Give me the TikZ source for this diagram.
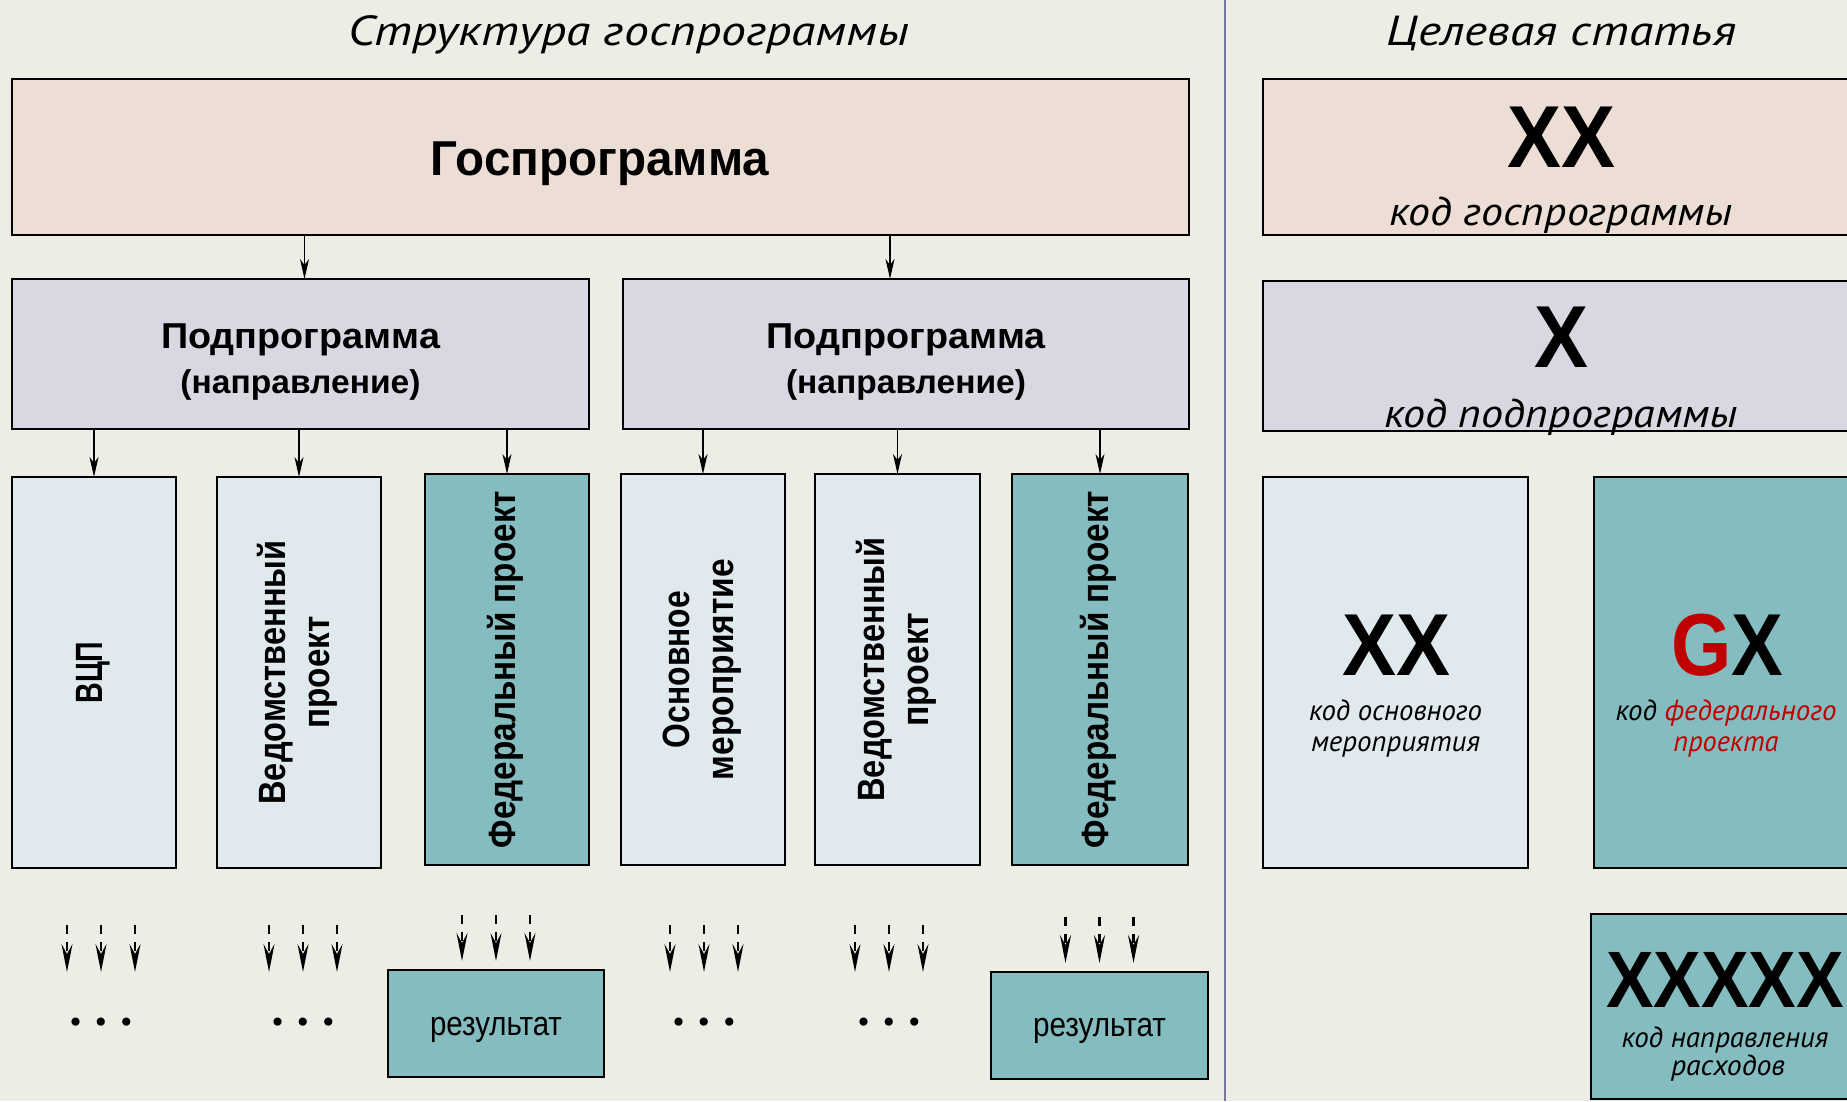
\documentclass[tikz,border=0pt]{standalone}
\usepackage{fontspec}
\usepackage{graphicx}
\setmainfont{Liberation Sans}
\newfontfamily\ptsans{PT Sans}
\newfontfamily\djv{DejaVu Sans}
\usetikzlibrary{arrows.meta,calc}
\definecolor{bgc}{RGB}{238,237,229}
\definecolor{gospc}{RGB}{236,222,213}
\definecolor{subc}{RGB}{216,216,226}
\definecolor{lightc}{RGB}{223,233,238}
\definecolor{tealc}{RGB}{132,188,192}
\definecolor{divc}{RGB}{120,120,165}
\definecolor{redc}{RGB}{192,0,0}
\newcommand\fitw[2]{\resizebox{#1pt}{\height}{#2}}
\newcommand\vtext[1]{\rotatebox{90}{\fontsize{38}{44}\selectfont\bfseries\begin{tabular}{@{}c@{}}#1\end{tabular}}}
\tikzset{
  box/.style={draw=black,line width=1.8pt,inner sep=0pt,outer sep=0pt,anchor=north west},
  arr/.style={line width=1.6pt,-{Stealth[length=20pt,width=9pt,inset=6pt]}},
  darr/.style={line width=2.6pt,dash pattern=on 9pt off 8pt,-{Stealth[length=28pt,width=11pt,inset=10pt]}},
  lbl/.style={anchor=base,inner sep=0pt,outer sep=0pt},
  ttl/.style={lbl,font=\ptsans\itshape\fontsize{42}{50}\selectfont},
  code/.style={lbl,font=\ptsans\itshape\fontsize{40}{48}\selectfont},
  scode/.style={lbl,font=\ptsans\itshape\fontsize{29}{34}\selectfont},
  big/.style={lbl,font=\bfseries\fontsize{88}{96}\selectfont},
  dotsn/.style={inner sep=0pt,outer sep=0pt,font=\djv\fontsize{28}{32}\selectfont}
}
\begin{document}
\begin{tikzpicture}[x=1pt,y=-1pt]
\useasboundingbox (0,0) rectangle (1847,1101);
\clip (0,0) rectangle (1847,1101);
\fill[bgc] (0,0) rectangle (1847,1101);
\draw[divc,line width=2pt] (1225,0) -- (1225,1101);

% titles
\node[ttl] (t1) at (629,45) {\fitw{561}{Структура госпрограммы}};
\node[ttl] (t2) at (1561,45) {\fitw{350}{Целевая статья}};

% left structure
\node[box,fill=gospc,minimum width=1177pt,minimum height=156pt] (gosp) at (12,79) {};
\node[lbl,font=\bfseries\fontsize{49}{56}\selectfont] (gospt) at (600,175) {\fitw{338}{Госпрограмма}};

\node[box,fill=subc,minimum width=577pt,minimum height=150pt] (sub1) at (12,279) {};
\node[box,fill=subc,minimum width=566pt,minimum height=150pt] (sub2) at (623,279) {};
\node[lbl,font=\bfseries\fontsize{36}{42}\selectfont] (s1a) at (300.5,348) {\fitw{279}{Подпрограмма}};
\node[lbl,font=\bfseries\fontsize{33}{40}\selectfont] (s1b) at (300.5,393) {\fitw{240}{(направление)}};
\node[lbl,font=\bfseries\fontsize{36}{42}\selectfont] (s2a) at (906,348) {\fitw{279}{Подпрограмма}};
\node[lbl,font=\bfseries\fontsize{33}{40}\selectfont] (s2b) at (906,393) {\fitw{240}{(направление)}};

\node[box,fill=lightc,minimum width=164pt,minimum height=391pt] (vcp) at (12,477) {\vtext{\fitw{62}{ВЦП}}};
\node[box,fill=lightc,minimum width=164pt,minimum height=391pt] (ved1) at (217,477) {\vtext{\fitw{264}{Ведомственный}\\\fitw{112}{проект}}};
\node[box,fill=tealc,minimum width=164pt,minimum height=391pt] (fed1) at (425,474) {\vtext{\fitw{357}{Федеральный проект}}};
\node[box,fill=lightc,minimum width=164pt,minimum height=391pt] (osn) at (621,474) {\vtext{\fitw{157}{Основное}\\\fitw{221}{мероприятие}}};
\node[box,fill=lightc,minimum width=165pt,minimum height=391pt] (ved2) at (815,474) {\vtext{\fitw{264}{Ведомственный}\\\fitw{114}{проект}}};
\node[box,fill=tealc,minimum width=176pt,minimum height=391pt] (fed2) at (1012,474) {\vtext{\fitw{357}{Федеральный проект}}};

\draw[arr] ([xshift=4pt]sub1.north |- gosp.south) -- ([xshift=4pt]sub1.north);
\draw[arr] ([xshift=-16pt]sub2.north |- gosp.south) -- ([xshift=-16pt]sub2.north);
\foreach \b in {vcp,ved1,fed1}{\draw[arr] (sub1.south -| \b.north) -- (\b.north);}
\foreach \b in {osn,ved2,fed2}{\draw[arr] (sub2.south -| \b.north) -- (\b.north);}

% results and dots
\node[box,fill=tealc,minimum width=216pt,minimum height=107pt] (res1) at (388,970) {};
\node[box,fill=tealc,minimum width=217pt,minimum height=107pt] (res2) at (991,972) {};
\node[lbl,font=\fontsize{34}{40}\selectfont] (r1t) at (496,1035) {\fitw{132}{результат}};
\node[lbl,font=\fontsize{34}{40}\selectfont] (r2t) at (1099.5,1036) {\fitw{133}{результат}};

\node[dotsn] (dA) at (101,1025) {• • •};
\node[dotsn] (dB) at (303,1025) {• • •};
\node[dotsn] (dC) at (704,1025) {• • •};
\node[dotsn] (dD) at (889,1025) {• • •};
\foreach \n in {dA,dB,dC,dD}{
  \foreach \dx in {-34,0,34}{\draw[darr] ($(\n.center)+(\dx,-100)$) -- ++(0,47);}
}
\foreach \n in {res1,res2}{
  \foreach \dx in {-34,0,34}{\draw[darr] ($(\n.north)+(\dx,-55)$) -- ++(0,46);}
}

% right side: target article
\node[box,fill=gospc,minimum width=596pt,minimum height=156pt] (c1) at (1263,79) {};
\node[big] (c1x) at (1561,167) {\fitw{108}{XX}};
\node[code] (c1t) at (1561,225) {\fitw{344}{код госпрограммы}};

\node[box,fill=subc,minimum width=596pt,minimum height=150pt] (c2) at (1263,281) {};
\node[big] (c2x) at (1561.5,367) {\fitw{54}{X}};
\node[code] (c2t) at (1561,427) {\fitw{354}{код подпрограммы}};

\node[box,fill=lightc,minimum width=265pt,minimum height=391pt] (c3) at (1263,477) {};
\node[big] (c3x) at (1396,675) {\fitw{108}{XX}};
\node[scode] (c3a) at (1395.5,720) {\fitw{173}{код основного}};
\node[scode] (c3b) at (1395.5,751) {\fitw{169}{мероприятия}};

\node[box,fill=tealc,minimum width=266pt,minimum height=391pt] (c4) at (1594,477) {};
\node[big] (c4x) at (1727,675) {\fitw{112}{\textcolor{redc}{G}X}};
\node[scode] (c4a) at (1726,720) {\fitw{221}{код \textcolor{redc}{федерального}}};
\node[scode,text=redc] (c4b) at (1726,751) {\fitw{105}{проекта}};

\node[box,fill=tealc,minimum width=268pt,minimum height=185pt] (c5) at (1591,914) {};
\node[big,font=\bfseries\fontsize{80}{88}\selectfont] (c5x) at (1725,1007) {\fitw{238}{XXXXX}};
\node[scode] (c5a) at (1725,1047) {\fitw{207}{код направления}};
\node[scode] (c5b) at (1728,1075) {\fitw{114}{расходов}};
\end{tikzpicture}
\end{document}
